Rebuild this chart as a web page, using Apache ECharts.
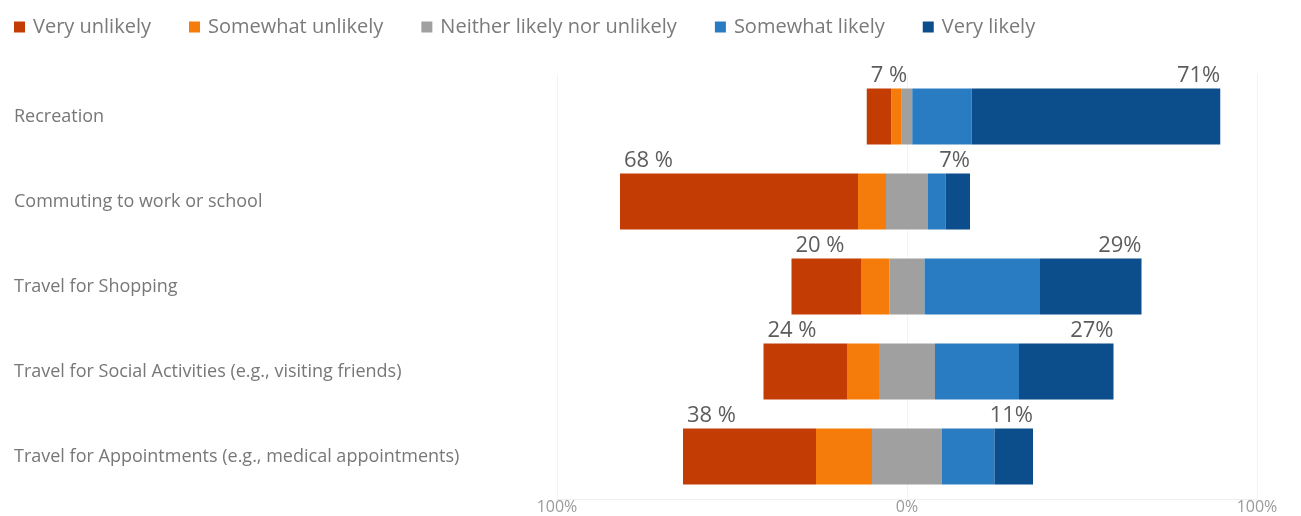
<!DOCTYPE html>
<html>
<head>
<meta charset="utf-8">
<script src="https://cdn.jsdelivr.net/npm/echarts@6/dist/echarts.min.js"></script>
<style>
  html, body { margin: 0; padding: 0; background: #ffffff; }
  #chart { width: 1301px; height: 516px; }
</style>
</head>
<body>
<div id="chart"></div>
<script>
// ---- data ----
const categories = [
  'Recreation',
  'Commuting to work or school',
  'Travel for Shopping',
  'Travel for Social Activities (e.g., visiting friends)',
  'Travel for Appointments (e.g., medical appointments)'
];
const veryUnlikely     = [7, 68, 20, 24, 38];
const somewhatUnlikely = [3, 8, 8, 9, 16];
const neither          = [3, 12, 10, 16, 20];
const somewhatLikely   = [17, 5, 33, 24, 15];
const veryLikely       = [71, 7, 29, 27, 11];
const axisTicks = [-100, 0, 100];

const colors = {
  vu: '#C33C04',
  su: '#F57C0A',
  ne: '#A0A0A0',
  sl: '#2A7CC2',
  vl: '#0C4D8C'
};
const FONT = "'Segoe UI', 'Open Sans', sans-serif";

const leftEdge  = categories.map((c, i) => -(veryUnlikely[i] + somewhatUnlikely[i] + neither[i] / 2));
const rightEdge = categories.map((c, i) => neither[i] / 2 + somewhatLikely[i] + veryLikely[i]);

const chart = echarts.init(document.getElementById('chart'), null, { renderer: 'canvas' });

function barSeries(name, data, color) {
  return {
    type: 'bar',
    name: name,
    stack: 'total',
    stackStrategy: 'samesign',
    data: data,
    barWidth: 56,
    itemStyle: { color: color },
    emphasis: { disabled: true },
    silent: true
  };
}

const option = {
  animation: false,
  backgroundColor: '#ffffff',
  textStyle: { fontFamily: FONT },
  legend: {
    data: ['Very unlikely', 'Somewhat unlikely', 'Neither likely nor unlikely', 'Somewhat likely', 'Very likely'],
    left: 9,
    top: 12,
    icon: 'rect',
    itemWidth: 11,
    itemHeight: 11,
    itemGap: 38,
    textStyle: { fontSize: 20, color: '#7a7a7a', fontFamily: FONT, padding: [0, 0, 0, 3] },
    selectedMode: false
  },
  grid: { left: 557, right: 44, top: 74, bottom: 17, containLabel: false },
  xAxis: {
    type: 'value',
    min: -100,
    max: 100,
    interval: 100,
    axisLine: { show: true, lineStyle: { color: '#eeeeee' } },
    axisTick: { show: false },
    splitLine: { show: true, lineStyle: { color: '#f3f3f3' } },
    axisLabel: {
      color: '#9a9a9a',
      fontSize: 16,
      fontFamily: FONT,
      margin: 0,
      formatter: v => axisTicks.includes(v) ? Math.abs(v) + '%' : ''
    }
  },
  yAxis: {
    type: 'category',
    data: categories,
    inverse: true,
    axisLine: { show: false },
    axisTick: { show: false },
    splitLine: { show: false },
    axisLabel: {
      align: 'left',
      margin: 543,
      color: '#777777',
      fontSize: 18,
      fontFamily: FONT
    }
  },
  series: [
    barSeries('Neither likely nor unlikely', neither.map(v => -v / 2), colors.ne),
    barSeries('Somewhat unlikely', somewhatUnlikely.map(v => -v), colors.su),
    barSeries('Very unlikely', veryUnlikely.map(v => -v), colors.vu),
    barSeries('Neither likely nor unlikely', neither.map(v => v / 2), colors.ne),
    barSeries('Somewhat likely', somewhatLikely, colors.sl),
    barSeries('Very likely', veryLikely, colors.vl),
    {
      type: 'scatter',
      name: 'leftLabels',
      symbolSize: 0,
      silent: true,
      data: leftEdge.map((x, i) => [x, i]),
      label: {
        show: true,
        position: 'top',
        distance: 30,
        align: 'left',
        offset: [4, 0],
        fontSize: 22,
        color: '#333333',
        fontFamily: FONT,
        formatter: p => veryUnlikely[p.dataIndex] + ' %'
      }
    },
    {
      type: 'scatter',
      name: 'rightLabels',
      symbolSize: 0,
      silent: true,
      data: rightEdge.map((x, i) => [x, i]),
      label: {
        show: true,
        position: 'top',
        distance: 30,
        align: 'right',
        offset: [0, 0],
        fontSize: 22,
        color: '#333333',
        fontFamily: FONT,
        formatter: p => veryLikely[p.dataIndex] + '%'
      }
    }
  ]
};

chart.setOption(option);
</script>
</body>
</html>
